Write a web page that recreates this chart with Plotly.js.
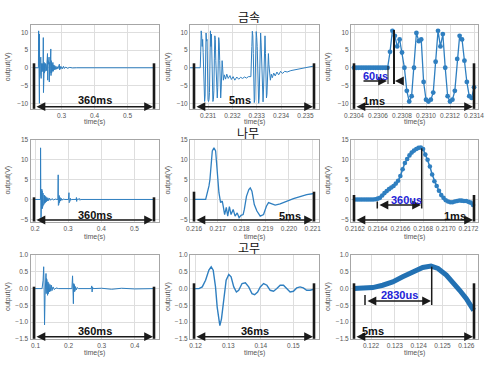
<!DOCTYPE html>
<html><head><meta charset="utf-8">
<script src="https://cdn.plot.ly/plotly-3.0.1.min.js"></script>
<style>html,body{margin:0;padding:0;background:#fff;}#chart{width:500px;height:366px;}</style>
</head><body><div id="chart"></div>
<script>
// ---------------- DATA ----------------
const rowTitles = ['금속', '나무', '고무'];
const spanLabels = ['360ms','5ms','1ms','360ms','5ms','1ms','360ms','36ms','5ms'];
const detailLabels = ['60us','360us','2830us'];

// metal, full 360 ms
const metalFullT = [0.2155,0.2300,0.2307,0.2309,0.2312,0.2314,0.2318,0.2322,0.2327,0.2330,0.2333,0.2336,0.2345,0.2352,0.2360,0.2366,0.2375,0.2382,0.2392,0.2400,0.2410,0.2420,0.2430,0.2440,0.2448,0.2453,0.2460,0.2466,0.2475,0.2483,0.2495,0.2505,0.2515,0.2525,0.2535,0.2545,0.2560,0.2575,0.2582,0.2590,0.2598,0.2610,0.2622,0.2630,0.2640,0.2650,0.2662,0.2675,0.2682,0.2690,0.2700,0.2712,0.2725,0.2738,0.2750,0.2765,0.2780,0.2795,0.2810,0.2830,0.2850,0.2870,0.2890,0.2935,0.2945,0.2960,0.2980,0.3000,0.3030,0.3060,0.3090,0.3130,0.3180,0.3250,0.3330,0.3450,0.5815];
const metalFullV = [0,0,10.4,-9.5,10.3,-9.3,-3,-2,10.2,-10,9.5,-2.5,1.5,-1.8,2.8,-2.5,3,-3,1.2,-1.2,1,-0.8,1.2,-1,8.5,-7,4,-3,1.5,-1.5,1,-1,1.2,-1,0.8,-0.8,1.2,4,-3.5,2,-1.5,1,3,-4,1.5,-1.5,1,5.3,-2.2,2,-1.5,1.2,-1,1.5,-1,0.8,-0.6,0.6,-0.5,0.4,-0.4,0.3,-0.3,1.0,-0.6,0.4,-0.3,0.3,-0.3,0.4,-0.2,0.2,-0.15,0.1,-0.05,0,0];

// metal, 5 ms
const metal5T = [0.23026,0.23068,0.23070,0.23072,0.23074,0.23076,0.23078,0.23080,0.23082,0.23084,0.23086,0.23088,0.23090,0.23092,0.23094,0.23096,0.23098,0.23100,0.23102,0.23104,0.23106,0.23108,0.23110,0.23112,0.23114,0.23116,0.23118,0.23120,0.23122,0.23124,0.23126,0.23128,0.23130,0.23132,0.23134,0.23136,0.23138,0.23140,0.23142,0.23144,0.23146,0.23148,0.23150,0.23152,0.23154,0.23156,0.23158,0.23160,0.23163,0.23167,0.23172,0.23177,0.23183,0.23190,0.23196,0.23203,0.23210,0.23218,0.23226,0.23234,0.23242,0.23250,0.23258,0.23266,0.23276,0.23280,0.23282,0.23284,0.23286,0.23288,0.23290,0.23292,0.23294,0.23296,0.23298,0.23300,0.23302,0.23304,0.23306,0.23308,0.23310,0.23312,0.23314,0.23316,0.23318,0.23320,0.23322,0.23324,0.23326,0.23328,0.23330,0.23332,0.23334,0.23336,0.23338,0.23340,0.23342,0.23344,0.23346,0.23348,0.23350,0.23353,0.23356,0.23360,0.23364,0.23370,0.23376,0.23383,0.23390,0.23398,0.23406,0.23415,0.23425,0.23440,0.23460,0.23480,0.23500,0.23520,0.23535];
const metal5V = [0,0,4.5,10.4,9,6,8,4.3,0,-6.5,-9.5,-8,0,9.8,7.5,8,-4,-9,-9.5,-9,-7,1.7,10.4,6,9.5,0,-8,-9.5,-9,-6.5,2.5,9,8,2,-4,-8,-8.5,-5.5,3,8.5,7,2,-6,-8.5,-6,-1,2,0,-3.5,-2,-3.2,-1.8,-3,-2.2,-3.3,-2.5,-3.5,-2.6,-3.2,-2.7,-3,-2.6,-2.9,-2.5,-2.5,6,10.3,9,4,-5,-9.8,-9,-3,5,10.2,8.5,6,-2,-8,-10,-8.5,0,8,9.8,7,1,-6,-9.5,-9.6,-6,2,8.5,9,4,-4,-8.5,-7.5,-3,2,4,1,-3,-3.5,-1.8,-2.8,-1.5,-2.3,-1.2,-2,-1,-1.6,-1,-1.2,-0.8,-0.5,-0.3,0,0.3,0.5];

// metal, 1 ms (sampled points)
const metal1msT = [0.23040,0.23042,0.23044,0.23046,0.23048,0.23050,0.23052,0.23054,0.23056,0.23058,0.23060,0.23062,0.23064,0.23066,0.23068,0.23070,0.23072,0.23074,0.23076,0.23078,0.23080,0.23082,0.23084,0.23086,0.23088,0.23090,0.23092,0.23094,0.23096,0.23098,0.23100,0.23102,0.23104,0.23106,0.23108,0.23110,0.23112,0.23114,0.23116,0.23118,0.23120,0.23122,0.23124,0.23126,0.23128,0.23130,0.23132,0.23134,0.23136,0.23138,0.23140];
const metal1msV = [0,0,0,0,0,0,0,0,0,0,0,0,0,0,0,4.5,10.4,9,6,8,4.3,0,-6.5,-9.5,-8,0,9.8,7.5,8,-4,-9,-9.5,-9,-7,1.7,10.4,6,9.5,0,-8,-9.5,-9,-6.5,2.5,9,8,2,-4,-8,-8.5,-5.5];

// wood, full 360 ms
const woodFullT = [0.2000,0.2164,0.2168,0.2172,0.2179,0.2183,0.2187,0.2195,0.2200,0.2205,0.2210,0.2216,0.2222,0.2228,0.2234,0.2242,0.2250,0.2260,0.2270,0.2280,0.2290,0.2300,0.2312,0.2325,0.2340,0.2355,0.2370,0.2390,0.2410,0.2440,0.2470,0.2510,0.2560,0.2620,0.2660,0.2690,0.2700,0.2705,0.2712,0.2720,0.2730,0.2740,0.2755,0.2770,0.2790,0.2810,0.2850,0.2900,0.3010,0.3025,0.3032,0.3040,0.3050,0.3065,0.3080,0.3100,0.3240,0.3250,0.3258,0.3265,0.3280,0.3350,0.3360,0.3380,0.5600];
const woodFullV = [0,0,13,-1,-4.6,2.9,-4.2,0.5,-1.5,2.6,-2.4,2.2,-2.2,2,-1.8,1.6,-1.5,1.3,-1.2,1.1,-1,0.9,-0.8,0.7,-0.6,0.5,-0.4,0.4,-0.3,0.3,-0.2,0.2,-0.1,0.1,0,0,6.2,-1.5,1.8,-1.2,1,-0.8,0.5,-0.4,0.3,-0.2,0.1,0,0,1.7,-0.8,0.8,-0.5,0.3,-0.2,0,0,0.5,-0.5,0.2,0,0.2,-0.2,0,0];

// wood, 5 ms
const wood5T = [0.21604,0.21649,0.21663,0.21667,0.21677,0.21684,0.21691,0.21698,0.21705,0.21712,0.21719,0.21723,0.21729,0.21736,0.21742,0.21749,0.21756,0.21765,0.21773,0.21782,0.21790,0.21798,0.21807,0.21812,0.21821,0.21831,0.21837,0.21844,0.21854,0.21865,0.21879,0.21893,0.21905,0.21914,0.21928,0.21942,0.21963,0.21991,0.22019,0.22047,0.22075,0.22106];
const wood5V = [0,0,3.4,5,12.2,13,12.2,7.6,1.7,-0.8,-0.4,-1.7,-3.8,-2,-4.2,-1.8,-3.8,-2.5,-4.2,-3.4,-4.6,-4,-3.8,-2.5,0.8,2.5,2.9,2.1,-1.3,-2.9,-4.2,-3.8,-1.7,-0.8,-1.1,-1.4,-1.1,-0.4,0.2,0.7,1.2,1.5];

// wood, 1 ms (sampled points)
const wood1msT = [0.21620,0.21622,0.21624,0.21626,0.21628,0.21630,0.21632,0.21634,0.21636,0.21638,0.21640,0.21642,0.21644,0.21646,0.21648,0.21650,0.21652,0.21654,0.21656,0.21658,0.21660,0.21662,0.21664,0.21666,0.21668,0.21670,0.21672,0.21674,0.21676,0.21678,0.21680,0.21682,0.21684,0.21686,0.21688,0.21690,0.21692,0.21694,0.21696,0.21698,0.21700,0.21702,0.21704,0.21706,0.21708,0.21710,0.21712,0.21714,0.21716,0.21718,0.21720,0.21722,0.21724];
const wood1msV = [0,0,0,0,0,0,0,0,0,0.05,0.2,0.4,1.0,1.6,2.1,2.6,3.0,3.4,4.0,4.7,5.9,7.6,9.2,10.2,11.1,11.8,12.3,12.7,13.0,13.1,12.7,11.3,10.0,8.3,6.3,4.6,3.4,2.2,1.1,0.4,-0.2,-0.5,-0.7,-0.7,-0.5,-0.4,-0.25,-0.3,-0.4,-0.4,-0.6,-0.8,-1.4];

// rubber, full 360 ms
const rubberFullT = [0.0980,0.1200,0.1230,0.1248,0.1262,0.1274,0.1290,0.1302,0.1312,0.1318,0.1325,0.1335,0.1345,0.1352,0.1365,0.1378,0.1390,0.1405,0.1420,0.1440,0.1460,0.1480,0.1500,0.1530,0.1570,0.1620,0.1700,0.2100,0.2120,0.2135,0.2145,0.2155,0.2165,0.2175,0.2190,0.2210,0.2230,0.2260,0.2300,0.2680,0.2700,0.2710,0.2725,0.2740,0.3000,0.3300,0.3600,0.4000,0.4570];
const rubberFullV = [0,0,0.25,0.65,0.0,-1.08,-0.2,0.42,0.1,0.45,-0.15,0.3,-0.1,0.25,-0.2,0.2,-0.15,0.15,-0.1,0.12,-0.08,0.1,-0.06,0.05,-0.03,0.02,0,0,0.38,-0.1,-0.45,0.15,-0.1,0.12,-0.08,0.06,-0.04,0.03,0,0,0.08,-0.1,0.04,0,0.01,-0.02,0.01,-0.01,0];

// rubber, 36 ms
const rubber36T = [0.11980,0.12102,0.12203,0.12305,0.12407,0.12478,0.12539,0.12610,0.12661,0.12712,0.12743,0.12793,0.12865,0.12936,0.13017,0.13088,0.13170,0.13251,0.13322,0.13424,0.13526,0.13628,0.13729,0.13811,0.13902,0.13984,0.14085,0.14187,0.14289,0.14391,0.14492,0.14594,0.14696,0.14797,0.14899,0.15000,0.15102,0.15204,0.15305,0.15407,0.15509,0.15631];
const rubber36V = [0,0,0.05,0.25,0.55,0.65,0.55,0.05,-0.55,-0.95,-1.1,-0.9,-0.25,0.25,0.42,0.35,0.05,-0.1,-0.05,0.15,0.17,0.05,-0.15,-0.18,-0.1,0.05,0.15,0.1,-0.05,-0.08,0,0.1,0.1,0,-0.1,-0.08,0.02,0.05,0.02,-0.05,-0.05,-0.02];

// rubber, 5 ms
const rubber5T = [0.12127,0.12165,0.12207,0.12249,0.12291,0.12333,0.12375,0.12417,0.12452,0.12481,0.12516,0.12544,0.12572,0.12600,0.12631];
const rubber5V = [0,0,0.03,0.1,0.2,0.35,0.5,0.63,0.67,0.6,0.4,0.2,-0.05,-0.3,-0.65];

// tick values
const xTicks = [
  [0.3,0.4,0.5],
  [0.231,0.232,0.233,0.234,0.235],
  [0.2304,0.2306,0.2308,0.2310,0.2312,0.2314],
  [0.2,0.3,0.4,0.5],
  [0.216,0.217,0.218,0.219,0.220,0.221],
  [0.2162,0.2164,0.2166,0.2168,0.2170,0.2172],
  [0.1,0.2,0.3,0.4],
  [0.12,0.13,0.14,0.15],
  [0.122,0.123,0.124,0.125,0.126]
];
const yTicksRows = [[-10,-5,0,5,10],[-5,0,5,10,15],[-1.5,-1.0,-0.5,0.0,0.5,1.0]];

// ---------------- LAYOUT / STYLE ----------------
const W = 500, H = 366;
const colPx = [[30.5,159],[190,319.3],[351,478]];
const rowPx = [[25,109.3],[139.5,221.7],[255,339]];
const xRanges = [[0.206,0.5955],[0.23026,0.23557],[0.230375,0.231433],[0.1864,0.5742],[0.21583,0.22128],[0.216165,0.217284],[0.085,0.473],[0.11827,0.15795],[0.12116,0.12649]];
const yRanges = [[-11.7,12.05],[-5.6,15.1],[-1.5,1.0]];
const xFormats = ['.1f','.3f','.4f','.1f','.3f','.4f','.1f','.2f','.3f'];
const yFormats = ['d','d','.1f'];
const LINE = '#2f7fc0';

const series = [
  {t: metalFullT, v: metalFullV, mode:'lines', w:1},
  {t: metal5T, v: metal5V, mode:'lines', w:1},
  {t: metal1msT, v: metal1msV, mode:'lines+markers', w:1.3, ms:4.8},
  {t: woodFullT, v: woodFullV, mode:'lines', w:1},
  {t: wood5T, v: wood5V, mode:'lines', w:1.3},
  {t: wood1msT, v: wood1msV, mode:'lines+markers', w:1.5, ms:4.6},
  {t: rubberFullT, v: rubberFullV, mode:'lines', w:1},
  {t: rubber36T, v: rubber36V, mode:'lines', w:1.4},
  {t: rubber5T, v: rubber5V, mode:'lines', w:5, color:'#2271b3'}
];

const px = x => x / W;
const py = y => 1 - y / H;

const traces = [];
const layout = {
  width: W, height: H,
  margin: {l:0, r:0, t:0, b:0, pad:0},
  paper_bgcolor: '#ffffff', plot_bgcolor: '#ffffff',
  showlegend: false,
  font: {family: 'Liberation Sans, Arial, sans-serif', color: '#555'},
  shapes: [], annotations: []
};

series.forEach((s, k) => {
  const r = Math.floor(k / 3), c = k % 3;
  const id = k === 0 ? '' : String(k + 1);
  const tr = {
    type: 'scatter', x: s.t, y: s.v, mode: s.mode,
    xaxis: 'x' + id, yaxis: 'y' + id,
    line: {color: s.color || LINE, width: s.w},
    hoverinfo: 'skip'
  };
  if (s.ms) tr.marker = {color: LINE, size: s.ms};
  traces.push(tr);
  const common = {
    showgrid: true, gridcolor: '#dedede', gridwidth: 1,
    showline: true, mirror: true, linecolor: '#a6a6a6', linewidth: 1,
    zeroline: false, ticks: '', fixedrange: true,
    tickfont: {size: 6.5, color: '#555', family: 'Liberation Sans, Arial, sans-serif'}
  };
  layout['xaxis' + id] = Object.assign({}, common, {
    domain: [px(colPx[c][0]), px(colPx[c][1])],
    range: xRanges[k], anchor: 'y' + id,
    tickmode: 'array', tickvals: xTicks[k], tickformat: xFormats[k]
  });
  layout['yaxis' + id] = Object.assign({}, common, {
    domain: [py(rowPx[r][1]), py(rowPx[r][0])],
    range: yRanges[r], anchor: 'x' + id,
    tickmode: 'array', tickvals: yTicksRows[r], tickformat: yFormats[r]
  });
  const cx = (colPx[c][0] + colPx[c][1]) / 2;
  const cy = (rowPx[r][0] + rowPx[r][1]) / 2;
  const tY = [121.7, 237.3, 352.7][r];
  layout.annotations.push({xref:'paper', yref:'paper', x:px(cx), y:py(tY), text:'time(s)', showarrow:false,
    font:{size:7, color:'#555'}, xanchor:'center', yanchor:'middle'});
  layout.annotations.push({xref:'paper', yref:'paper', x:px([8,168,328][c]), y:py(cy), text:'output(V)', showarrow:false,
    textangle:-90, font:{size:7, color:'#555'}, xanchor:'center', yanchor:'middle'});
});

[[249, 16.5], [248, 132.5], [249, 247.5]].forEach((p, i) => {
  layout.annotations.push({xref:'paper', yref:'paper', x:px(p[0]), y:py(p[1]), text:rowTitles[i], showarrow:false,
    font:{size:12, color:'#111', family:'Noto Sans CJK KR'}, xanchor:'center', yanchor:'middle'});
});

const BLK = '#1a1a1a';
function vline(x, y0, y1, w) {
  layout.shapes.push({type:'line', xref:'paper', yref:'paper', x0:px(x), x1:px(x), y0:py(y0), y1:py(y1), line:{color:BLK, width:w}});
}
function arrow(xHead, xTail, y, both) {
  layout.annotations.push({xref:'paper', yref:'paper', x:px(xHead), y:py(y), ax:xTail - xHead, ay:0,
    text:'', showarrow:true, arrowhead:2, arrowsize:1.1, arrowwidth:1.6, arrowcolor:BLK,
    arrowside: both ? 'end+start' : 'end', standoff:0, startstandoff:0});
}
function label(text, x, y, color) {
  layout.annotations.push({xref:'paper', yref:'paper', x:px(x), y:py(y), text:'<b>' + text + '</b>', showarrow:false,
    font:{size:11, color:color, family:'Liberation Sans, Arial, sans-serif'}, xanchor:'center', yanchor:'middle'});
}
const barX = [[34,154],[194,314],[354,474]];
const barTop = [[63.3,63.3,63.3],[197.3,191.7,195],[286.7,283.3,283.3]];
const barBottom = [108.8, 221.5, 338.8];
const arrowY = [106.7, 220, 336.7];
const labelPos = [[95,100],[240,100],[374,101],[95,215],[290,216],[455,216],[95,331],[255,330.5],[373,331]];
for (let k = 0; k < 9; k++) {
  const r = Math.floor(k / 3), c = k % 3;
  vline(barX[c][0], barTop[r][c], barBottom[r], 2.6);
  vline(barX[c][1], barTop[r][c], barBottom[r], 2.6);
  arrow(barX[c][1] - 1, barX[c][0] + 1, arrowY[r], true);
  label(spanLabels[k], labelPos[k][0], labelPos[k][1], '#111');
}
const BLUE = '#2323d6';
vline(388, 66, 84, 1);
vline(394, 30, 84, 2);
arrow(387, 362, 81, false);
arrow(395, 404, 81, false);
label(detailLabels[0], 375, 76, BLUE);
vline(377.3, 201.5, 208.5, 1.5);
vline(421.7, 148.3, 208.5, 1.5);
arrow(421, 378, 205, true);
label(detailLabels[1], 406, 199.5, BLUE);
vline(365, 295, 305, 1.5);
vline(431.7, 266.7, 305, 1.5);
arrow(431, 366, 301, true);
label(detailLabels[2], 399, 294.5, BLUE);

Plotly.newPlot('chart', traces, layout, {staticPlot: true, displayModeBar: false});
</script>
</body></html>
